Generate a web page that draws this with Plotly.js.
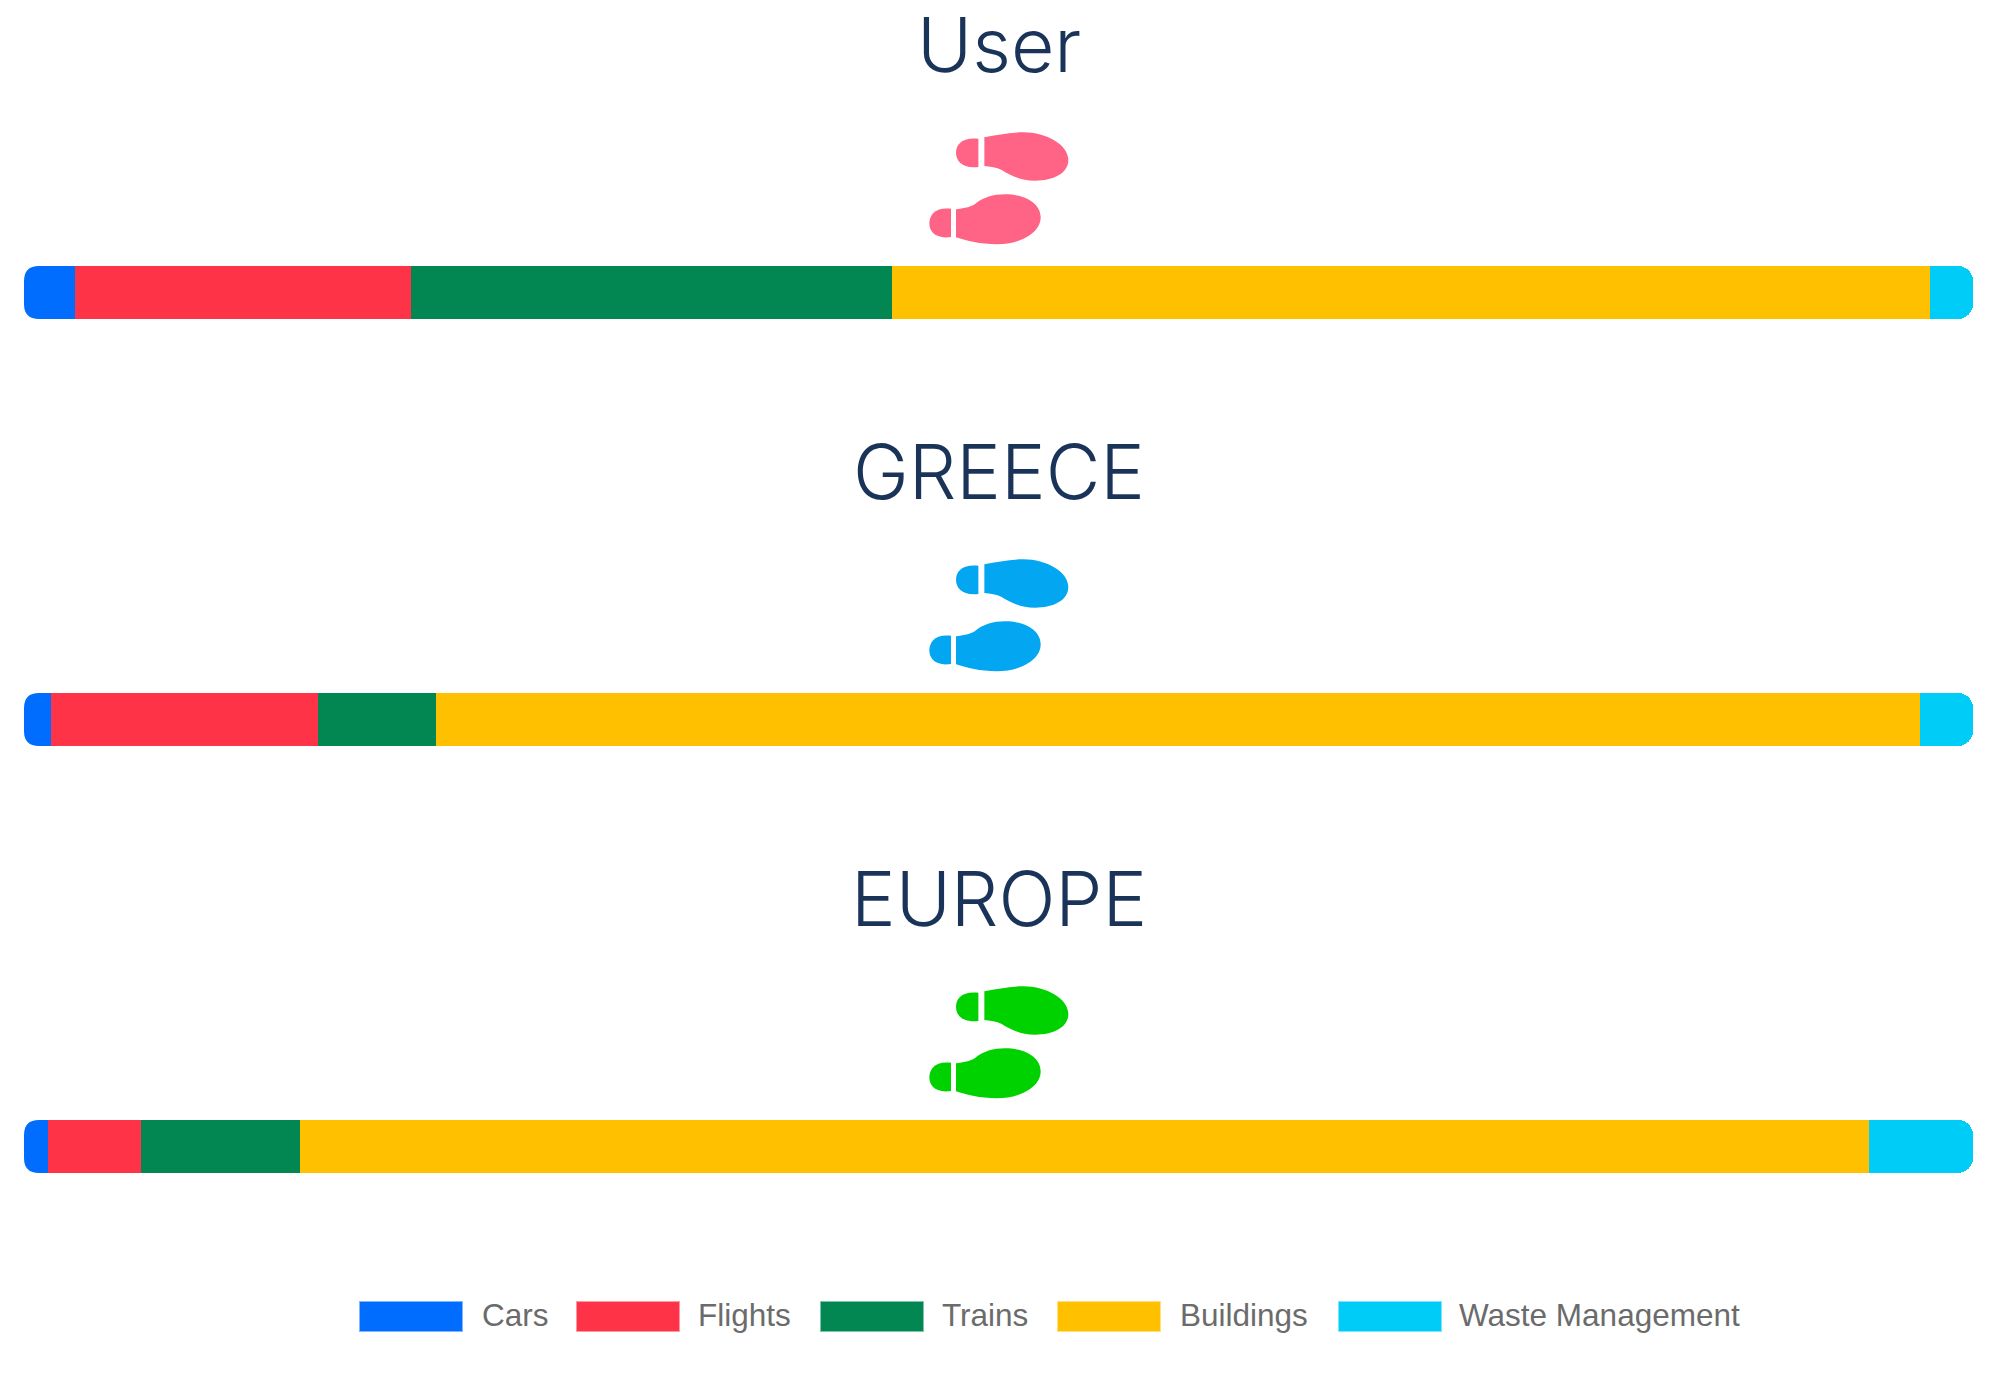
<!DOCTYPE html>
<html>
<head>
<meta charset="utf-8">
<script src="https://cdn.plot.ly/plotly-3.0.1.min.js"></script>
<style>
body { margin: 0; background: #fff; }
#plot { width: 1990px; height: 1386px; }
</style>
</head>
<body>
<div id="plot"></div>
<script>
// values are % shares
var groups = ["User", "GREECE", "EUROPE"];
var cars = [2.6, 1.4, 1.25];
var flights = [17.25, 13.7, 4.75];
var trains = [24.7, 6.05, 8.15];
var buildings = [53.25, 76.15, 80.5];
var waste = [2.2, 2.7, 5.35];

var seriesNames = ["Cars", "Flights", "Trains", "Buildings", "Waste Management"];
var seriesValues = [cars, flights, trains, buildings, waste];
var seriesColors = ["#006dff", "#ff3347", "#028753", "#ffc000", "#00ccf8"];
var swatchEdges = ["rgba(0,109,255,0.5)", "rgba(255,51,71,0.5)", "rgba(2,135,83,0.5)", "rgba(255,192,0,0.5)", "rgba(0,204,248,0.5)"];
var footColors = ["#ff6385", "#03a6f1", "#00d200"];

var W = 1990, H = 1386;
var marginL = 24, marginR = 17;
var plotW = W - marginL - marginR;

// pixel position on the page -> plotly paper coordinate
function px(x) { return (x - marginL) / plotW; }
function py(y) { return 1 - y / H; }

var plotData = seriesNames.map(function (name, i) {
    return {
        type: "bar",
        orientation: "h",
        name: name,
        y: groups,
        x: seriesValues[i],
        width: 0.124,
        hoverinfo: "name+x",
        marker: { color: seriesColors[i], line: { width: 0 } }
    };
});

function footprint(color) {
    var svg = '<svg xmlns="http://www.w3.org/2000/svg" viewBox="140 390 430 350" width="430" height="350">' +
        '<g fill="' + color + '">' +
        '<path d="M313,412C350,405 390,397 430,397C500,397 565,435 565,480C565,520 520,542 465,542C420,542 390,525 365,510C350,502 330,500 313,498Z"/>' +
        '<path d="M295,416L295,501C245,506 228,482 228,458C228,434 245,411 295,416Z"/>' +
        '<path d="M228,628C250,625 270,622 285,612C310,592 340,583 375,583C435,583 482,610 482,652C482,700 420,733 350,733C300,733 260,722 228,712Z"/>' +
        '<path d="M213,626L213,711C165,718 148,694 148,670C148,646 165,620 213,626Z"/>' +
        '</g></svg>';
    return "data:image/svg+xml;base64," + btoa(svg);
}

// plotly only rounds the far end of a stack, so the left corners get white caps
function cornerCap(top, bottom, r) {
    var x0 = px(marginL - 1), x1 = px(marginL), x2 = px(marginL + r);
    var path = "M" + x0 + "," + py(top - 1) + "L" + x2 + "," + py(top - 1) + "L" + x2 + "," + py(top) +
        "Q" + x1 + "," + py(top) + " " + x1 + "," + py(top + r) + "L" + x0 + "," + py(top + r) + "Z" +
        "M" + x0 + "," + py(bottom + 1) + "L" + x2 + "," + py(bottom + 1) + "L" + x2 + "," + py(bottom) +
        "Q" + x1 + "," + py(bottom) + " " + x1 + "," + py(bottom - r) + "L" + x0 + "," + py(bottom - r) + "Z";
    return {
        type: "path",
        xref: "paper", yref: "paper",
        path: path,
        fillcolor: "#fff",
        line: { width: 0 },
        layer: "above"
    };
}

var annotations = [];
var images = [];
var shapes = [];

groups.forEach(function (g, i) {
    var rowTop = 427 * i;
    annotations.push({
        text: g,
        xref: "paper", yref: "paper",
        x: px(999), y: py(44 + rowTop),
        xanchor: "center", yanchor: "middle",
        showarrow: false,
        font: { family: "Inter", size: 75, weight: 300, color: "#1a3358" }
    });
    images.push({
        source: footprint(footColors[i]),
        xref: "paper", yref: "paper",
        x: px(926.7), y: py(130 + rowTop),
        sizex: 143.3 / plotW, sizey: 116.7 / H,
        xanchor: "left", yanchor: "top",
        sizing: "stretch", layer: "above"
    });
    shapes.push(cornerCap(266 + rowTop, 319 + rowTop, 15));
});

// wide legend swatches, plotly's own legend only draws small squares for bars
var swatchX = [360, 577, 821, 1058, 1339];
var labelX = [480, 696, 940, 1178, 1457];
seriesNames.forEach(function (name, i) {
    shapes.push({
        type: "rect",
        xref: "paper", yref: "paper",
        x0: px(swatchX[i]), x1: px(swatchX[i] + 102),
        y0: py(1302), y1: py(1331),
        fillcolor: seriesColors[i],
        line: { width: 2, color: swatchEdges[i] }
    });
    annotations.push({
        text: name,
        xref: "paper", yref: "paper",
        x: px(labelX[i]), y: py(1315),
        xanchor: "left", yanchor: "middle",
        showarrow: false,
        font: { family: "Liberation Sans", size: 31.5, color: "#6b6b6b" }
    });
});

var layout = {
    width: W,
    height: H,
    barmode: "stack",
    barcornerradius: 15,
    showlegend: false,
    paper_bgcolor: "#fff",
    plot_bgcolor: "#fff",
    margin: { l: marginL, r: marginR, t: 0, b: 0, pad: 0 },
    xaxis: { range: [0, 100], visible: false, fixedrange: true },
    yaxis: {
        type: "category",
        categoryorder: "array",
        categoryarray: groups,
        range: [2.561, -0.685],
        visible: false,
        fixedrange: true
    },
    annotations: annotations,
    images: images,
    shapes: shapes
};

Plotly.newPlot("plot", plotData, layout, { displayModeBar: false });
</script>
</body>
</html>
